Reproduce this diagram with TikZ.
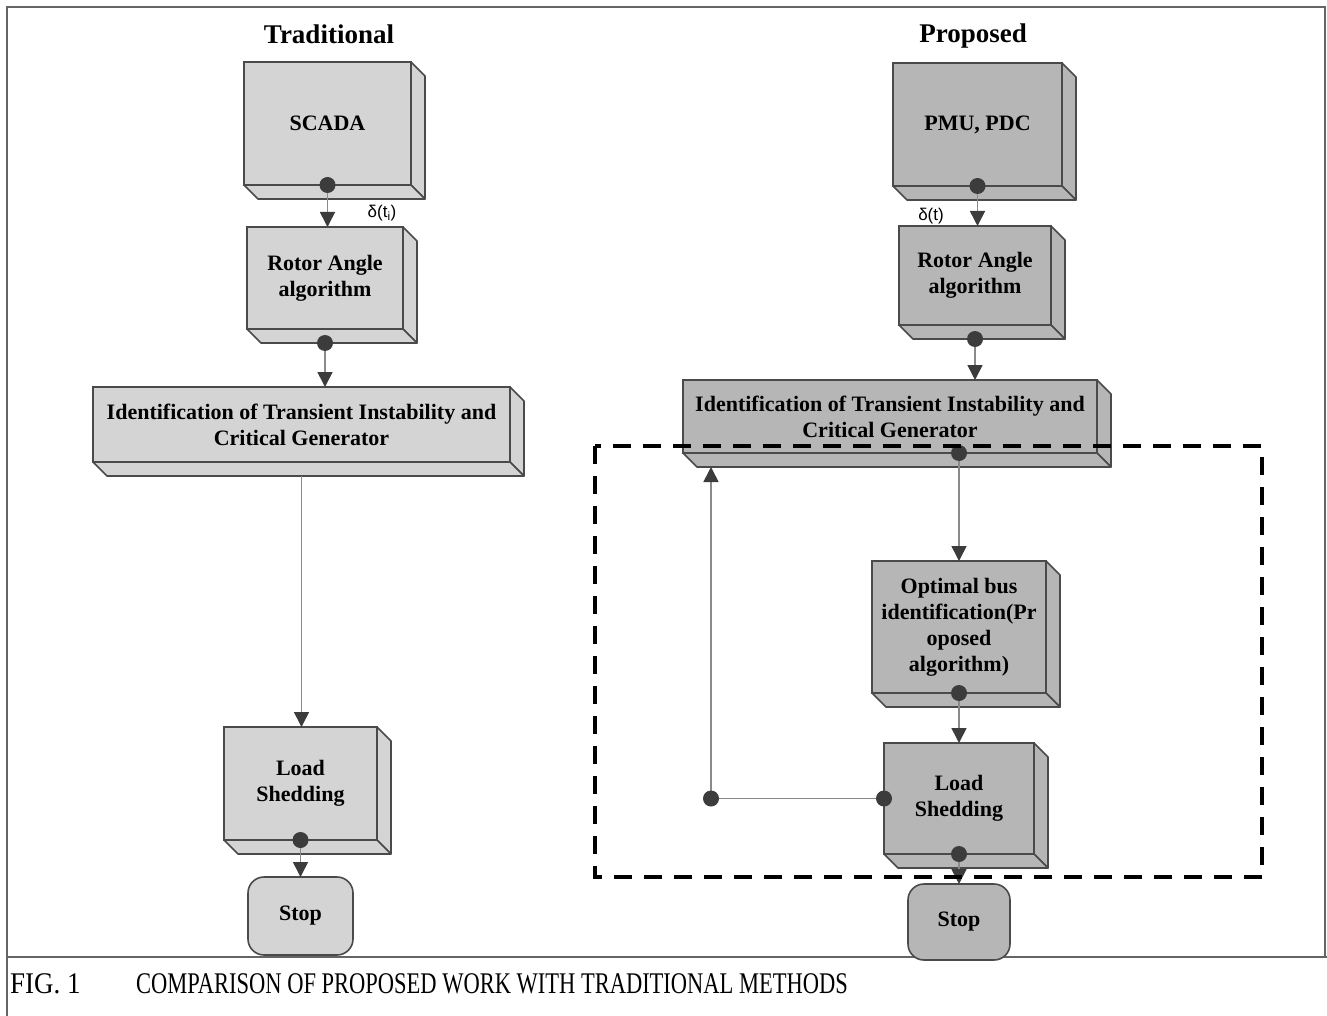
\documentclass[tikz,border=0pt]{standalone}
\usepackage{fontspec}
\setmainfont{Liberation Serif}
\setsansfont{Liberation Sans}
\newfontfamily\capfont[FakeStretch=0.75]{Liberation Serif}
\newfontfamily\figfont[FakeStretch=0.9]{Liberation Serif}
\usetikzlibrary{arrows.meta,calc}
\definecolor{tradfill}{HTML}{D4D4D4}
\definecolor{propfill}{HTML}{B6B6B6}
\definecolor{edgec}{HTML}{4A4A4A}
\definecolor{linec}{HTML}{8A8A8A}
\definecolor{dotc}{HTML}{3C3C3C}
\tikzset{
  cubefront/.style={draw=edgec, line width=1.6pt, inner sep=2pt, outer sep=0pt, align=center,
    font=\bfseries\fontsize{22}{26}\selectfont},
  cubeedge/.style={draw=edgec, line width=1.6pt, line join=round},
  stopbox/.style={draw=edgec, line width=1.6pt, rounded corners=16pt, outer sep=0pt, inner sep=2pt,
    font=\bfseries\fontsize{22}{26}\selectfont},
  flow/.style={draw=linec, line width=1.6pt, -{Triangle[length=15pt,width=15pt,color=dotc]}},
  link/.style={draw=linec, line width=1.6pt},
  dotmark/.style={fill=dotc},
  titletext/.style={font=\bfseries\fontsize{27}{30}\selectfont},
  deltalab/.style={font=\sffamily\fontsize{17}{17}\selectfont, inner sep=0pt},
  dashbox/.style={draw=black, line width=4pt, dash pattern=on 18pt off 12pt},
  framel/.style={draw=edgec!85, line width=2pt},
  captext/.style={font=\capfont\fontsize{30}{30}\selectfont, inner sep=0pt, anchor=base west},
  figtext/.style={font=\figfont\fontsize{30}{30}\selectfont, inner sep=0pt, anchor=base west}
}
\newcommand\cubebox[7]{%
  \node[cubefront, fill=#6, minimum width=#4pt, minimum height=#5pt] (#1) at (#2,#3) {#7};
  \draw[cubeedge, fill=#6] (#1.north east) -- ++(14,14) -- ($(#1.south east)+(14,14)$) -- (#1.south east) -- cycle;
  \draw[cubeedge, fill=#6] (#1.south west) -- ++(14,14) -- ($(#1.south east)+(14,14)$) -- (#1.south east) -- cycle;
  \coordinate (#1-bot) at ($(#1.south)+(0,14)$);
}
\begin{document}
\begin{tikzpicture}[x=1pt,y=-1pt]
\useasboundingbox (0,0) rectangle (1327,1016);
% frame
\draw[framel] (7,1016) -- (7,7) -- (1325,7) -- (1325,957);
\draw[framel] (7,957) -- (1327,957);
% titles
\node[titletext] (t1) at (329,34) {Traditional};
\node[titletext] (t2) at (973,36) {Proposed};
% traditional boxes
\cubebox{scada}{327.5}{123.5}{167}{123}{tradfill}{SCADA}
\cubebox{rot1}{325}{278}{156}{102}{tradfill}{Rotor Angle\\algorithm}
\cubebox{id1}{301.5}{424.5}{417}{75}{tradfill}{Identification of Transient Instability and\\Critical Generator}
\cubebox{ls1}{300.5}{783.5}{153}{113}{tradfill}{Load\\Shedding}
\node[stopbox, fill=tradfill, minimum width=105pt, minimum height=78pt] (stop1) at (300.5,916) {Stop};
% proposed boxes
\cubebox{pmu}{977.5}{124.5}{169}{123}{propfill}{PMU, PDC}
\cubebox{rot2}{975}{275.5}{152}{99}{propfill}{Rotor Angle\\algorithm}
\cubebox{id2}{890}{416.5}{414}{73}{propfill}{Identification of Transient Instability and\\Critical Generator}
\cubebox{opt}{959}{627}{174}{132}{propfill}{Optimal bus\\identification(Pr\\oposed\\algorithm)}
\cubebox{ls2}{959}{798.5}{150}{111}{propfill}{Load\\Shedding}
\node[stopbox, fill=propfill, minimum width=102pt, minimum height=76pt] (stop2) at (959,922) {Stop};
% labels
\node[deltalab] (lab1) at (382,213) {δ(t\textsubscript{i})};
\node[deltalab] (lab2) at (931,216) {δ(t)};
% connectors traditional
\draw[flow] (scada.south) -- (scada.south |- rot1.north);
\draw[flow] (rot1-bot) -- (rot1-bot |- id1.north);
\draw[flow] (id1-bot) -- (id1-bot |- ls1.north);
\draw[flow] (ls1.south) -- (ls1.south |- stop1.north);
% connectors proposed
\coordinate (id2d) at (opt.north |- id2.south);
\path (ls2.west) ++(-173,0) coordinate (fb);
\draw[flow] (pmu.south) -- (pmu.south |- rot2.north);
\draw[flow] (rot2-bot) -- (rot2-bot |- id2.north);
\draw[flow] (id2d) -- (opt.north);
\draw[flow] (opt.south) -- (ls2.north);
\draw[flow] (ls2.south) -- (stop2.north);
\draw[link] (ls2.west) -- (fb);
\draw[flow] (fb) -- (fb |- id2-bot);
% dots
\foreach \p in {scada.south, rot1-bot, ls1.south, pmu.south, rot2-bot, id2d, opt.south, ls2.south, ls2.west, fb}
  \fill[dotmark] (\p) circle (8);
% dashed region
\draw[dashbox] (595,446) rectangle (1262,877);
% caption
\node[figtext] (c1) at (10,993) {FIG. 1};
\node[captext] (c2) at (136,993) {COMPARISON OF PROPOSED WORK WITH TRADITIONAL METHODS};
\end{tikzpicture}
\end{document}
